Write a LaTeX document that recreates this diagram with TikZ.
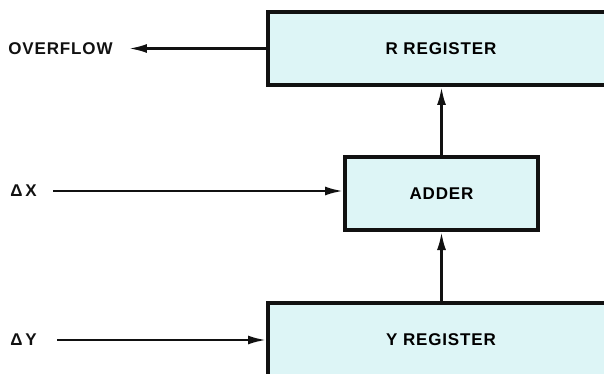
\documentclass[tikz,border=0pt]{standalone}
\usepackage{fontspec}
\usepackage{tikz}
\usepackage{xcolor}
\usetikzlibrary{arrows.meta,positioning}
\newfontfamily\lettering{Liberation Sans}[LetterSpace=5]
\definecolor{ink}{HTML}{111111}
\definecolor{cyanbg}{HTML}{DDF5F6}
\tikzset{
  regbox/.style={draw=ink,fill=cyanbg,line width=2pt,
                 minimum width=173pt,minimum height=36.5pt,
                 inner sep=0pt,font=\lettering\bfseries\fontsize{8.5}{10}\selectfont},
  addbox/.style={regbox,minimum width=96.5pt},
  sigtext/.style={inner sep=0pt,text=ink,
                  font=\lettering\bfseries\fontsize{8.5}{10}\selectfont},
  flowarr/.style={-{Latex[length=9pt,width=4.5pt]},line width=1.2pt,draw=ink}
}
\begin{document}
\begin{tikzpicture}[x=0.5pt,y=-0.5pt]
    \useasboundingbox (0,0) rectangle (604,374);
    \clip (0,0) rectangle (604,374);
    \node[regbox] (rreg) at (441,48.5) {R REGISTER};
    \node[addbox] (adder) at (441.5,193.5) {ADDER};
    \node[regbox] (yreg) at (441,339.5) {\raisebox{-3pt}{Y REGISTER}};
    \node[sigtext,anchor=west] (ovf) at (8,48.5) {OVERFLOW};
    \node[sigtext,anchor=west] (dx) at (10,191) {Δ\,X};
    \node[sigtext,anchor=west] (dy) at (10,340) {Δ\,Y};
    \draw[flowarr,shorten >=8pt] (rreg.west) -- (ovf.east);
    \draw[flowarr] ([xshift=8pt]dx.east) -- (dx -| adder.west);
    \draw[flowarr] ([xshift=10pt]dy.east) -- (dy -| yreg.west);
    \draw[flowarr] (yreg.north -| adder.south) -- (adder.south);
    \draw[flowarr] (adder.north) -- (adder.north |- rreg.south);
  \end{tikzpicture}
\end{document}
